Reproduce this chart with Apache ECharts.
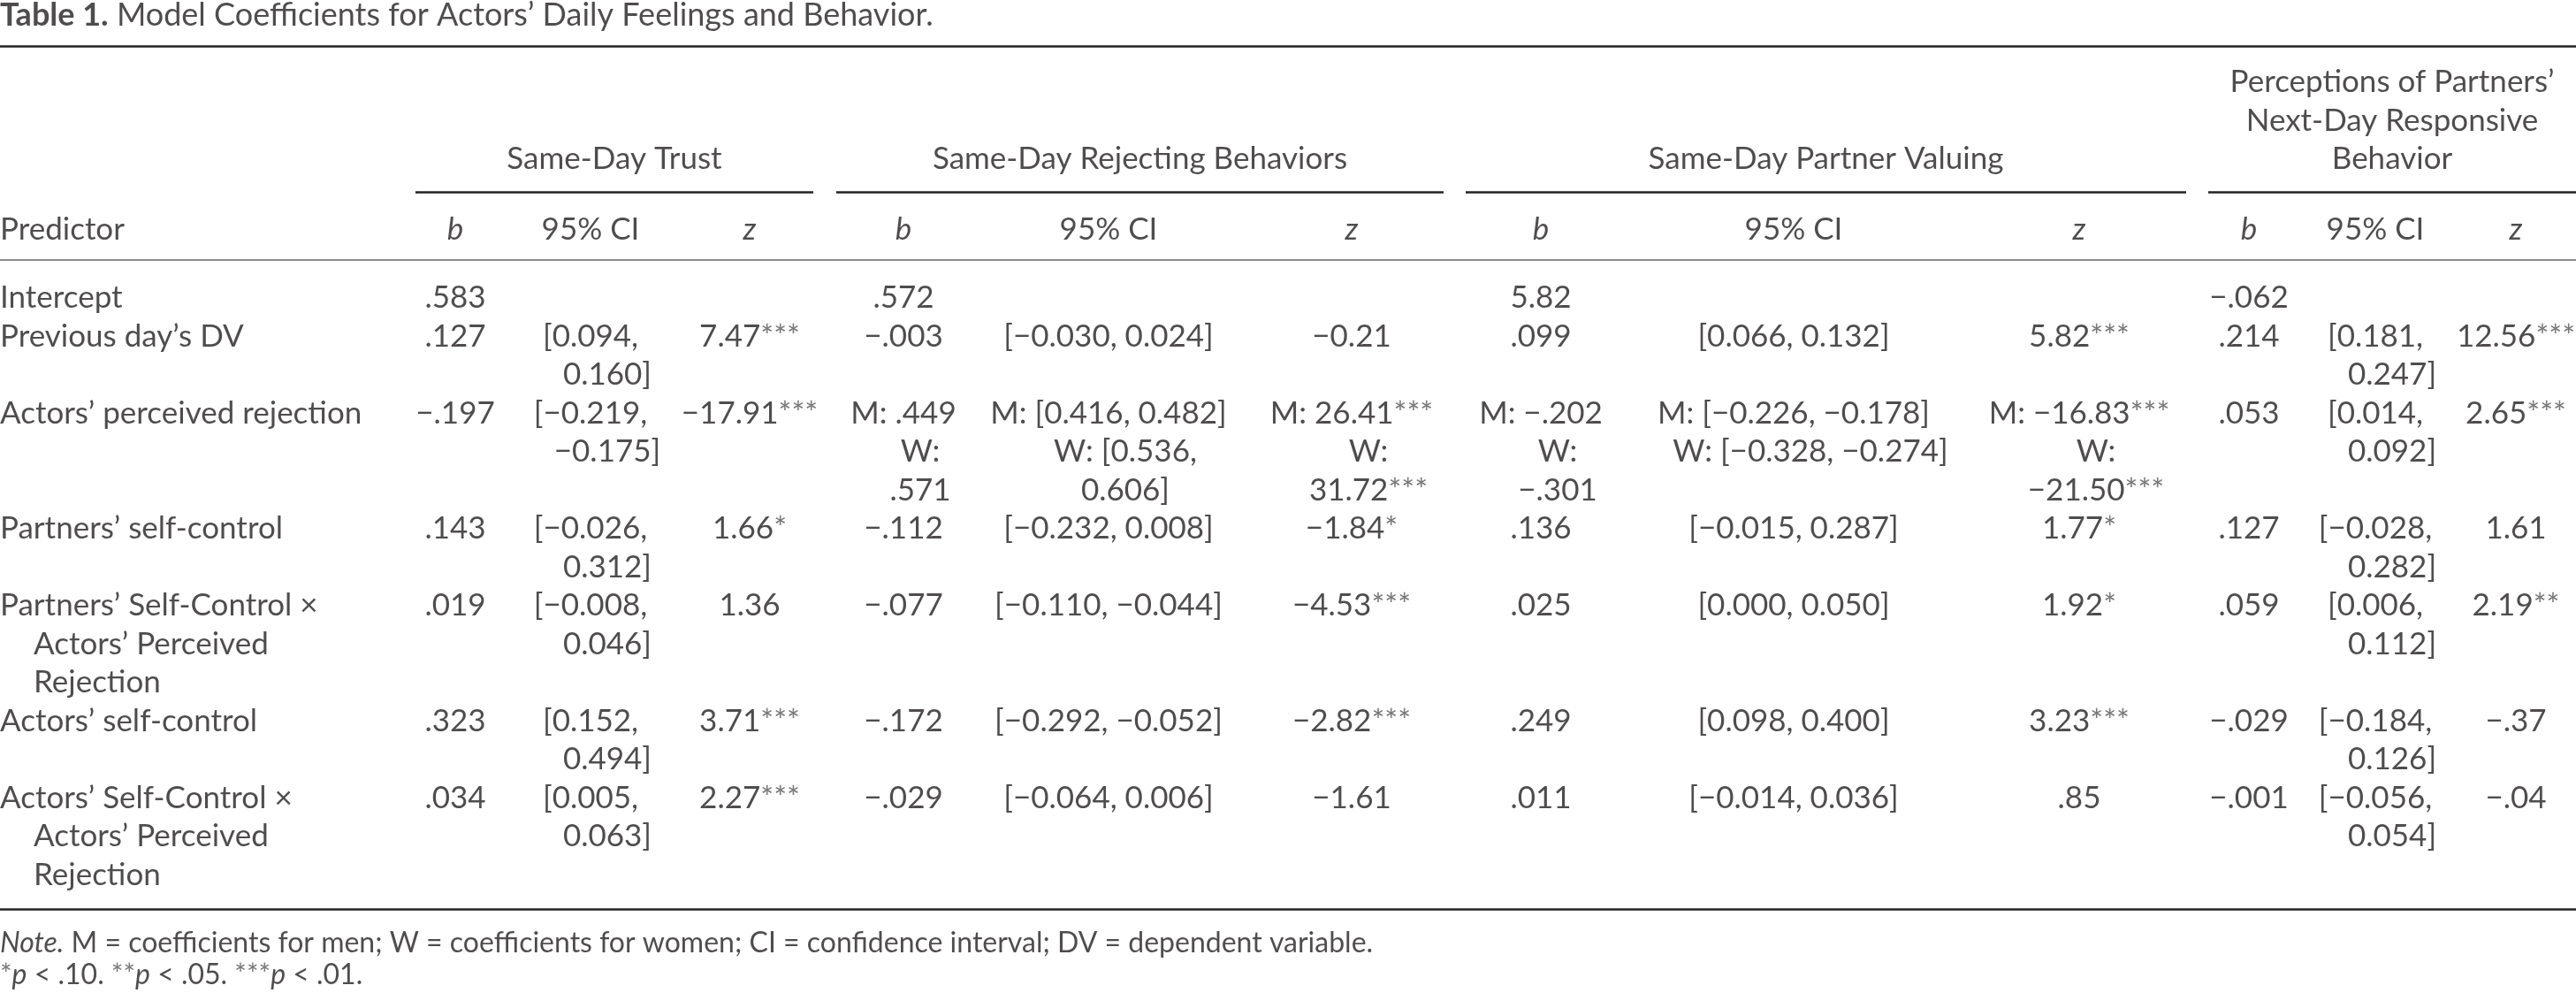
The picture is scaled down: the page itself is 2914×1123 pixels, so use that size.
<!DOCTYPE html>
<html><head><meta charset="utf-8">
<script src="https://cdn.jsdelivr.net/npm/echarts@6/dist/echarts.min.js"></script>
<style>html,body{margin:0;padding:0;background:#fff}#c{width:2914px;height:1123px}</style>
</head><body><div id="c"></div><script>
// ---------- content ----------
const captionBold = "Table 1.";
const captionText = " Model Coefficients for Actors’ Daily Feelings and Behavior.";
const groupNames = ["Same-Day Trust", "Same-Day Rejecting Behaviors", "Same-Day Partner Valuing",
  "Perceptions of Partners’\nNext-Day Responsive\nBehavior"];
const columnHeads = ["Predictor", "b", "95% CI", "z", "b", "95% CI", "z", "b", "95% CI", "z", "b", "95% CI", "z"];
const italicHeads = ["b", "z"];
const predictors = ["Intercept", "Previous day’s DV", "Actors’ perceived rejection", "Partners’ self-control",
  "Partners’ Self-Control ×\nActors’ Perceived\nRejection", "Actors’ self-control",
  "Actors’ Self-Control ×\nActors’ Perceived\nRejection"];

const trustB = [".583", ".127", "−.197", ".143", ".019", ".323", ".034"];
const trustCI = ["", "[0.094,\n0.160]", "[−0.219,\n−0.175]", "[−0.026,\n0.312]", "[−0.008,\n0.046]", "[0.152,\n0.494]", "[0.005,\n0.063]"];
const trustZ = ["", "7.47***", "−17.91***", "1.66*", "1.36", "3.71***", "2.27***"];

const rejB = [".572", "−.003", "M: .449\nW:\n.571", "−.112", "−.077", "−.172", "−.029"];
const rejCI = ["", "[−0.030, 0.024]", "M: [0.416, 0.482]\nW: [0.536,\n0.606]", "[−0.232, 0.008]", "[−0.110, −0.044]", "[−0.292, −0.052]", "[−0.064, 0.006]"];
const rejZ = ["", "−0.21", "M: 26.41***\nW:\n31.72***", "−1.84*", "−4.53***", "−2.82***", "−1.61"];

const valB = ["5.82", ".099", "M: −.202\nW:\n−.301", ".136", ".025", ".249", ".011"];
const valCI = ["", "[0.066, 0.132]", "M: [−0.226, −0.178]\nW: [−0.328, −0.274]", "[−0.015, 0.287]", "[0.000, 0.050]", "[0.098, 0.400]", "[−0.014, 0.036]"];
const valZ = ["", "5.82***", "M: −16.83***\nW:\n−21.50***", "1.77*", "1.92*", "3.23***", ".85"];

const perB = ["−.062", ".214", ".053", ".127", ".059", "−.029", "−.001"];
const perCI = ["", "[0.181,\n0.247]", "[0.014,\n0.092]", "[−0.028,\n0.282]", "[0.006,\n0.112]", "[−0.184,\n0.126]", "[−0.056,\n0.054]"];
const perZ = ["", "12.56***", "2.65***", "1.61", "2.19**", "−.37", "−.04"];

const noteLabel = "Note.";
const noteText = " M = coefficients for men; W = coefficients for women; CI = confidence interval; DV = dependent variable.";
const sigLevels = [["*", " < .10. "], ["**", " < .05. "], ["***", " < .01."]];

// ---------- layout (positions/styles, not data) ----------
const W = 2914, H = 1123;
const LINE_PX = 43.5, FIRST_LINE_PX = 337;
const COL_X = [0, 515, 668, 848, 1022, 1254, 1529, 1743, 2029, 2352, 2544, 2687, 2846];
const GROUP_SPAN = [[470, 920], [946, 1633], [1658, 2473], [2498, 2914]];
const INDENT = 38;
const FONT = "Lato";
const FS = 35, FS_TITLE = 36, FS_NOTE = 32;
const INK = "#231f20";
const STAR = "#555";
const px2line = p => (p - FIRST_LINE_PX) / LINE_PX;

const columns = [predictors, trustB, trustCI, trustZ, rejB, rejCI, rejZ, valB, valCI, valZ, perB, perCI, perZ];

function fmt(s) {
  return s.replace(/(\*+)/g, '{s|$1}');
}

const pts = [];
// body rows
let line = 0;
for (let r = 0; r < predictors.length; r++) {
  let n = 1;
  columns.forEach((col, c) => {
    const parts = col[r] ? col[r].split("\n") : [];
    n = Math.max(n, parts.length);
    parts.forEach((t, i) => {
      pts.push({
        value: [COL_X[c], line + i], t: fmt(t),
        label: { align: c === 0 ? "left" : "center", offset: [i > 0 ? (c === 0 ? INDENT : INDENT / 2) : 0, 0] }
      });
    });
  });
  line += n;
}
// column headers
columnHeads.forEach((h, c) => {
  pts.push({
    value: [COL_X[c], px2line(260)],
    t: italicHeads.includes(h) ? "{it|" + h + "}" : h,
    label: { align: c === 0 ? "left" : "center" }
  });
});
// group headers (bottom-aligned)
groupNames.forEach((g, k) => {
  const parts = g.split("\n");
  const mid = (GROUP_SPAN[k][0] + GROUP_SPAN[k][1]) / 2;
  parts.forEach((t, i) => {
    pts.push({ value: [mid, px2line(180) - (parts.length - 1 - i)], t: t, label: { align: "center" } });
  });
});
// caption & notes
pts.push({ value: [0, px2line(17)], t: "{bold|" + captionBold + "}{cap|" + captionText + "}", label: { align: "left" } });
pts.push({ value: [0, px2line(1067)], t: "{nit|" + noteLabel + "}{n|" + noteText + "}", label: { align: "left" } });
pts.push({
  value: [0, px2line(1103)],
  t: sigLevels.map(([st, rest]) => "{ns|" + st + "}{nit|p}{n|" + rest + "}").join(""),
  label: { align: "left" }
});

// rules
const rule = (x1, x2, yPx, w, color) => [
  { coord: [x1, px2line(yPx)], lineStyle: { width: w, color: color, type: "solid" } },
  { coord: [x2, px2line(yPx)] }
];
const rules = [
  rule(0, W, 52, 2.5, "#222"),
  ...GROUP_SPAN.map(s => rule(s[0], s[1], 217, 2.5, "#222")),
  rule(0, W, 294, 1.6, "#666"),
  rule(0, W, 1028, 2.5, "#222")
];

const chart = echarts.init(document.getElementById("c"), null, { renderer: "canvas" });
chart.setOption({
  animation: false,
  backgroundColor: "#fff",
  grid: { left: 0, right: 0, top: 0, bottom: 0 },
  xAxis: { type: "value", min: 0, max: W, show: false },
  yAxis: { type: "value", inverse: true, min: px2line(0), max: px2line(H), show: false },
  series: [{
    type: "scatter",
    silent: true,
    symbol: "circle",
    symbolSize: 1,
    itemStyle: { color: "rgba(0,0,0,0)" },
    data: pts,
    label: {
      show: true,
      position: "inside",
      verticalAlign: "middle",
      fontFamily: FONT,
      fontSize: FS,
      color: INK,
      lineHeight: 42,
      formatter: p => p.data.t,
      rich: {
        s: { fontFamily: FONT, fontSize: FS, color: STAR, lineHeight: 42 },
        it: { fontFamily: FONT, fontSize: FS, fontStyle: "italic", color: INK, lineHeight: 42 },
        bold: { fontFamily: FONT, fontSize: FS_TITLE, fontWeight: "bold", color: INK, lineHeight: 42 },
        cap: { fontFamily: FONT, fontSize: FS_TITLE, color: INK, lineHeight: 42 },
        n: { fontFamily: FONT, fontSize: FS_NOTE, color: INK, lineHeight: 42 },
        nit: { fontFamily: FONT, fontSize: FS_NOTE, fontStyle: "italic", color: INK, lineHeight: 42 },
        ns: { fontFamily: FONT, fontSize: FS_NOTE, color: STAR, lineHeight: 42 }
      }
    },
    markLine: {
      silent: true,
      symbol: ["none", "none"],
      label: { show: false },
      data: rules
    }
  }]
});
</script></body></html>
